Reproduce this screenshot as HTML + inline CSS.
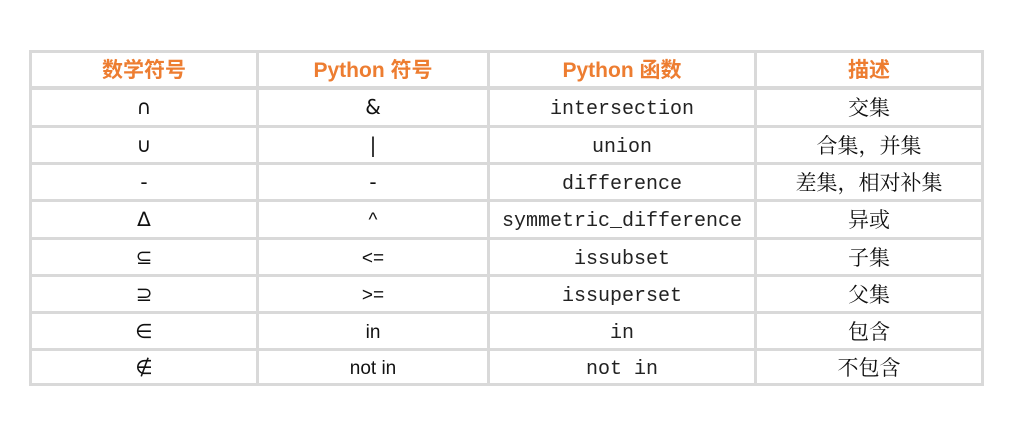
<!DOCTYPE html><html><head><meta charset="utf-8"><style>
body{margin:0;width:1030px;height:433px;background:#fff;position:relative;overflow:hidden;font-family:"Liberation Sans","Noto Sans CJK SC",sans-serif}
.h{position:absolute;background:#d9d9d9}
.c{position:absolute;height:36px;color:#111;display:flex;align-items:center;justify-content:center;line-height:1;box-sizing:border-box}
.hd{color:#ED7D31;font-weight:bold;font-size:21px}
.m{font-family:"Liberation Mono",monospace;font-size:20px;color:#222;padding-top:5px}
.s{font-family:"DejaVu Sans",serif;font-size:20px}
.z{font-family:"Noto Serif CJK SC","Noto Sans CJK SC",serif;font-size:21px}
.p{font-size:19px;padding-top:2px}
</style></head><body>
<div class="h" style="left:29px;top:50px;width:955px;height:3px"></div>
<div class="h" style="left:29px;top:86px;width:955px;height:4px"></div>
<div class="h" style="left:29px;top:125px;width:955px;height:3px"></div>
<div class="h" style="left:29px;top:162px;width:955px;height:3px"></div>
<div class="h" style="left:29px;top:199px;width:955px;height:3px"></div>
<div class="h" style="left:29px;top:237px;width:955px;height:3px"></div>
<div class="h" style="left:29px;top:274px;width:955px;height:3px"></div>
<div class="h" style="left:29px;top:311px;width:955px;height:3px"></div>
<div class="h" style="left:29px;top:348px;width:955px;height:3px"></div>
<div class="h" style="left:29px;top:383px;width:955px;height:3px"></div>
<div class="h" style="left:29px;top:50px;width:3px;height:336px"></div>
<div class="h" style="left:256px;top:50px;width:3px;height:336px"></div>
<div class="h" style="left:487px;top:50px;width:3px;height:336px"></div>
<div class="h" style="left:754px;top:50px;width:3px;height:336px"></div>
<div class="h" style="left:981px;top:50px;width:3px;height:336px"></div>

<div class="c hd" style="left:32px;width:224px;top:52px">数学符号</div>
<div class="c hd" style="left:259px;width:228px;top:52px">Python 符号</div>
<div class="c hd" style="left:490px;width:264px;top:52px">Python 函数</div>
<div class="c hd" style="left:757px;width:224px;top:52px">描述</div>

<div class="c s" style="left:32px;width:224px;top:89px">∩</div>
<div class="c s" style="left:259px;width:228px;top:89px">&amp;</div>
<div class="c m" style="left:490px;width:264px;top:89px">intersection</div>
<div class="c z" style="left:757px;width:224px;top:89px">交集</div>

<div class="c s" style="left:32px;width:224px;top:127px">∪</div>
<div class="c s" style="left:259px;width:228px;top:127px">|</div>
<div class="c m" style="left:490px;width:264px;top:127px">union</div>
<div class="c z" style="left:757px;width:224px;top:127px">合集，并集</div>

<div class="c s" style="left:32px;width:224px;top:164px">-</div>
<div class="c s" style="left:259px;width:228px;top:164px">-</div>
<div class="c m" style="left:490px;width:264px;top:164px">difference</div>
<div class="c z" style="left:757px;width:224px;top:164px">差集，相对补集</div>

<div class="c s" style="left:32px;width:224px;top:201px">∆</div>
<div class="c p" style="left:259px;width:228px;top:201px">^</div>
<div class="c m" style="left:490px;width:264px;top:201px">symmetric_difference</div>
<div class="c z" style="left:757px;width:224px;top:201px">异或</div>

<div class="c s" style="left:32px;width:224px;top:239px">⊆</div>
<div class="c p" style="left:259px;width:228px;top:239px">&lt;=</div>
<div class="c m" style="left:490px;width:264px;top:239px">issubset</div>
<div class="c z" style="left:757px;width:224px;top:239px">子集</div>

<div class="c s" style="left:32px;width:224px;top:276px">⊇</div>
<div class="c p" style="left:259px;width:228px;top:276px">&gt;=</div>
<div class="c m" style="left:490px;width:264px;top:276px">issuperset</div>
<div class="c z" style="left:757px;width:224px;top:276px">父集</div>

<div class="c s" style="left:32px;width:224px;top:313px">∈</div>
<div class="c p" style="left:259px;width:228px;top:313px">in</div>
<div class="c m" style="left:490px;width:264px;top:313px">in</div>
<div class="c z" style="left:757px;width:224px;top:313px">包含</div>

<div class="c s" style="left:32px;width:224px;top:349px">∉</div>
<div class="c p" style="left:259px;width:228px;top:349px">not in</div>
<div class="c m" style="left:490px;width:264px;top:349px">not in</div>
<div class="c z" style="left:757px;width:224px;top:349px">不包含</div>
</body></html>
